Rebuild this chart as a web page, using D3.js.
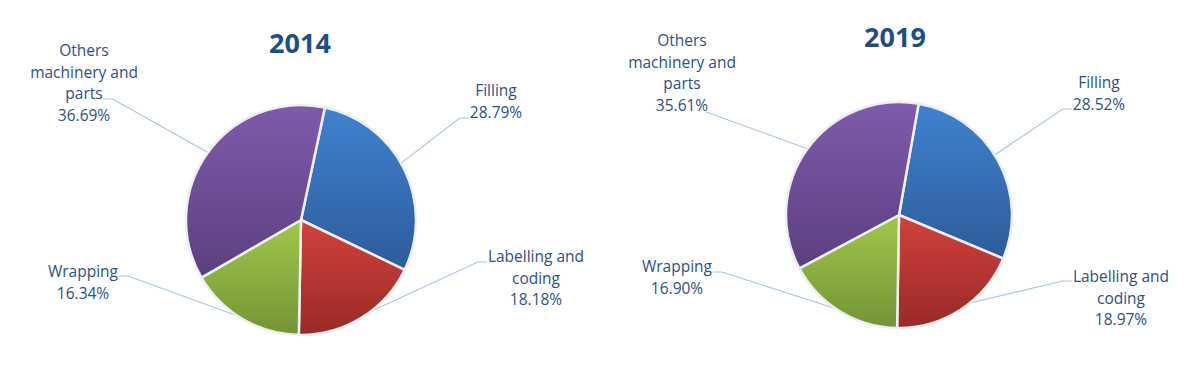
<!doctype html>
<html lang="en">
  <head>
    <meta charset="utf-8">
    <title>Packaging machinery 2014 / 2019</title>
    <script src="https://d3js.org/d3.v7.min.js"></script>
    <style>
      body { margin: 0; background: #fff; }
      text { font-family: "Open Sans", sans-serif; }
    </style>
  </head>

  <body>
    <svg width="1200" height="376"></svg>
    <script>
      var categories = ['Filling', 'Labelling and coding', 'Wrapping', 'Others machinery and parts'];
      var years = ['2014', '2019'];
      var values2014 = [28.79, 18.18, 16.34, 36.69];
      var values2019 = [28.52, 18.97, 16.90, 35.61];

      // label text broken into lines like the original
      var labelLines = [['Filling'], ['Labelling and', 'coding'], ['Wrapping'], ['Others', 'machinery and', 'parts']];

      var colors = [
        ['#3f82cf', '#2d5c9a'],
        ['#d3413b', '#982a27'],
        ['#a0c84a', '#739437'],
        ['#7e5bab', '#5c3f80']
      ];

      // layout of each chart: pie centre, start angle (deg), title spot, label spots
      var layouts = [
        { cx: 301, cy: 220, r: 115, start: 12, titleX: 300, titleY: 53,
          labels: [
            { x: 496, y: 96,  side: 'left',  hy: 118, lineIdx: 1, tilt: -0.06 },
            { x: 536, y: 262, side: 'left',  hy: 262, lineIdx: 0, tilt: -0.1 },
            { x: 83,  y: 277, side: 'right', hy: 276, lineIdx: 0, tilt: 0.05 },
            { x: 84,  y: 56,  side: 'right', hy: 99,  lineIdx: 2, tilt: 0 }
          ] },
        { cx: 899, cy: 215, r: 113, start: 10, titleX: 895, titleY: 47,
          labels: [
            { x: 1099, y: 88,  side: 'left',  hy: 109, lineIdx: 1, tilt: -0.06 },
            { x: 1121, y: 282, side: 'left',  hy: 281, lineIdx: 0, tilt: -0.1 },
            { x: 677,  y: 272, side: 'right', hy: 272, lineIdx: 0, tilt: 0.05 },
            { x: 682,  y: 46,  side: 'none',  hy: 112, lineIdx: 3, tilt: 0 }
          ] }
      ];

      var lineH = 21.5;
      var svg = d3.select('svg');
      var defs = svg.append('defs');

      colors.forEach(function(c, i){
        var g = defs.append('linearGradient')
          .attr('id', 'grad' + i)
          .attr('x1', 0).attr('y1', 0).attr('x2', 0).attr('y2', 1);
        g.append('stop').attr('offset', '0%').attr('stop-color', c[0]);
        g.append('stop').attr('offset', '100%').attr('stop-color', c[1]);
      });

      var drawPie = function(values, year, lay){
        var data = categories.map(function(c, i){ return { name: c, value: values[i], idx: i }; });

        var pie = d3.pie()
          .sort(null)
          .value(function(d){ return d.value; })
          .startAngle(lay.start * Math.PI / 180)
          .endAngle((lay.start + 360) * Math.PI / 180);

        var arc = d3.arc().innerRadius(0).outerRadius(lay.r);
        var arcs = pie(data);

        var g = svg.append('g').attr('transform', 'translate(' + lay.cx + ',' + lay.cy + ')');

        g.selectAll('path.slice').data(arcs).enter()
          .append('path')
            .attr('class', 'slice')
            .attr('d', arc)
            .attr('fill', function(d){ return 'url(#grad' + d.data.idx + ')'; })
            .attr('stroke', '#eeeeee')
            .attr('stroke-width', 2.5)
            .attr('stroke-linejoin', 'round');

        // title
        svg.append('text')
          .attr('x', lay.titleX)
          .attr('y', lay.titleY)
          .attr('text-anchor', 'middle')
          .style('font-size', '27px')
          .style('font-weight', 'bold')
          .style('fill', '#1f4e84')
          .text(year);

        // labels + leader lines
        arcs.forEach(function(d){
          var lab = lay.labels[d.data.idx];
          var lines = labelLines[d.data.idx].concat([d3.format('.2f')(d.data.value) + '%']);

          var t = svg.append('text')
            .attr('text-anchor', 'middle')
            .style('font-size', '15.5px')
            .style('fill', '#2b5189');
          lines.forEach(function(s, k){
            t.append('tspan').attr('x', lab.x).attr('y', lab.y + k * lineH).text(s);
          });

          // edge point near slice middle
          var mid = (d.startAngle + d.endAngle) / 2 + lab.tilt;
          var ex = lay.cx + lay.r * Math.sin(mid);
          var ey = lay.cy - lay.r * Math.cos(mid);

          var w = t.selectAll('tspan').nodes()[lab.lineIdx].getComputedTextLength();
          var pts;
          if (lab.side === 'left') {
            var sx = lab.x - w / 2 - 1;
            pts = [[sx, lab.hy], [sx - 9, lab.hy], [ex, ey]];
          } else if (lab.side === 'right') {
            var rx = lab.x + w / 2 + 1;
            pts = [[rx, lab.hy], [rx + 9, lab.hy], [ex, ey]];
          } else {
            pts = [[lab.x + w / 2 - 2, lab.hy], [ex, ey]];
          }

          svg.insert('path', 'g')
            .attr('d', d3.line()(pts))
            .attr('fill', 'none')
            .attr('stroke', '#a8c3e6')
            .attr('stroke-width', 1.1);
        });
      };

      drawPie(values2014, years[0], layouts[0]);
      drawPie(values2019, years[1], layouts[1]);
    </script>
  </body>
</html>
